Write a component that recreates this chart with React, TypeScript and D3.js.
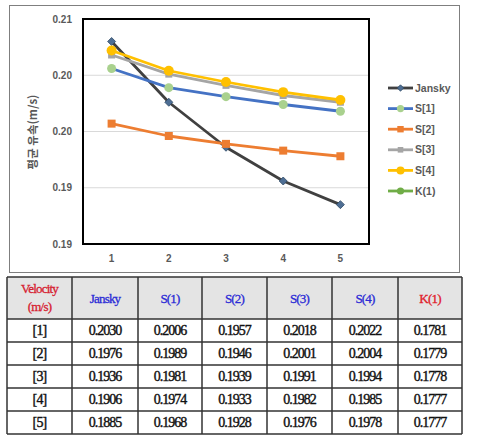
import React from "react";
import * as d3 from "d3";

const categories = ["1", "2", "3", "4", "5"];
const rowLabels = ["[1]", "[2]", "[3]", "[4]", "[5]"];
const seriesNames = ["Jansky", "S[1]", "S[2]", "S[3]", "S[4]", "K(1)"];
const tableHeaders = ["Jansky", "S(1)", "S(2)", "S(3)", "S(4)", "K(1)"];
const jansky = [0.203, 0.1976, 0.1936, 0.1906, 0.1885];
const s1 = [0.2006, 0.1989, 0.1981, 0.1974, 0.1968];
const s2 = [0.1957, 0.1946, 0.1939, 0.1933, 0.1928];
const s3 = [0.2018, 0.2001, 0.1991, 0.1982, 0.1976];
const s4 = [0.2022, 0.2004, 0.1994, 0.1985, 0.1978];
const k1 = [0.1781, 0.1779, 0.1778, 0.1777, 0.1777];
const yTicks = [0.185, 0.19, 0.195, 0.2, 0.205];
const yTickLabels = ["0.19", "0.19", "0.20", "0.20", "0.21"];

const seriesValues = [jansky, s1, s2, s3, s4, k1];
const lineColors = ["#404040", "#4472C4", "#ED7D31", "#A5A5A5", "#FFC000", "#70AD47"];
const markerColors = ["#4E6E94", "#A9D18E", "#ED7D31", "#A5A5A5", "#FFC000", "#70AD47"];
const markerShapes = ["diamond", "circle", "square", "square", "circle", "circle"];
const markerSizes = [4, 4.5, 4, 3.5, 5, 4.5];
const headerColors = ["#2b2bd6", "#2b2bd6", "#2b2bd6", "#2b2bd6", "#2b2bd6", "#e0202a"];

function Marker({ shape, x, y, s, color }: any) {
  if (shape === "circle") return <circle cx={x} cy={y} r={s} fill={color} />;
  if (shape === "square")
    return <rect x={x - s} y={y - s} width={s * 2} height={s * 2} fill={color} />;
  return (
    <path
      d={`M${x},${y - s} L${x + s},${y} L${x},${y + s} L${x - s},${y} Z`}
      fill={color}
      stroke="#2f4a66"
      strokeWidth={0.8}
    />
  );
}

export default function App() {
  const left = 83, right = 369, top = 19, bottom = 244;
  const x = d3.scalePoint<string>().domain(categories).range([left, right]).padding(0.5);
  const y = d3.scaleLinear().domain([0.185, 0.205]).range([bottom, top]);
  const line = d3
    .line<number>()
    .x((_, i) => x(categories[i]) as number)
    .y((d) => y(d));

  const colX = [7, 72, 138, 202, 267, 332, 398, 462];
  const rowY = [277, 319, 342, 365, 388, 411, 434];
  const font = "'Liberation Sans', 'Noto Sans', sans-serif";
  const serif = "'Liberation Serif', 'DejaVu Serif', serif";

  const legendY = d3.scaleLinear().domain([0, 5]).range([88, 191]);

  return (
    <div style={{ position: "absolute", left: 0, top: 0 }}>
      <svg width={478} height={444} style={{ display: "block", background: "#fff" }}>
        <defs>
          <clipPath id="plotClip">
            <rect x={left} y={top} width={right - left} height={bottom - top} />
          </clipPath>
        </defs>
        <rect x={9.5} y={5.5} width={450} height={267} fill="#fff" stroke="#7f7f7f" strokeWidth={1} />
        {yTicks.map((t, i) =>
          i === 0 || i === yTicks.length - 1 ? null : (
            <line key={i} x1={left} x2={right} y1={y(t)} y2={y(t)} stroke="#d9d9d9" strokeWidth={1} />
          )
        )}
        {yTicks.map((t, i) => (
          <text
            key={i}
            x={72}
            y={y(t)}
            dy="0.35em"
            textAnchor="end"
            fontFamily={font}
            fontSize={10}
            fontWeight="bold"
            fill="#595959"
          >
            {yTickLabels[i]}
          </text>
        ))}
        {categories.map((c) => (
          <text
            key={c}
            x={x(c) as number}
            y={262}
            textAnchor="middle"
            fontFamily={font}
            fontSize={10}
            fontWeight="bold"
            fill="#595959"
          >
            {c}
          </text>
        ))}
        <text
          transform={`translate(37,132) rotate(-90)`}
          textAnchor="middle"
          fontFamily="'Noto Sans CJK KR', 'Noto Sans', sans-serif"
          fontSize={11.5}
          fontWeight="bold"
          fill="#595959"
        >
          평균 유속(m/s)
        </text>
        <g clipPath="url(#plotClip)">
          {seriesValues.map((vals, si) => (
            <g key={si}>
              <path d={line(vals) as string} fill="none" stroke={lineColors[si]} strokeWidth={2.8} strokeLinejoin="round" />
              {vals.map((v, i) => (
                <Marker
                  key={i}
                  shape={markerShapes[si]}
                  x={x(categories[i])}
                  y={y(v)}
                  s={markerSizes[si]}
                  color={markerColors[si]}
                />
              ))}
            </g>
          ))}
        </g>
        <rect x={left} y={top} width={right - left} height={bottom - top} fill="none" stroke="#000" strokeWidth={2} />
        {seriesNames.map((n, i) => {
          const ly = legendY(i);
          return (
            <g key={n}>
              <line x1={388} x2={413} y1={ly} y2={ly} stroke={lineColors[i]} strokeWidth={2.8} />
              <Marker shape={markerShapes[i]} x={400.5} y={ly} s={markerSizes[i] * 0.8} color={markerColors[i]} />
              <text x={415} y={ly} dy="0.35em" fontFamily={font} fontSize={10.5} fontWeight="bold" fill="#595959">
                {n}
              </text>
            </g>
          );
        })}
        <rect x={colX[0]} y={rowY[0]} width={colX[7] - colX[0]} height={rowY[1] - rowY[0]} fill="#e4e4e4" />
        {rowY.map((ry, i) => (
          <line key={"r" + i} x1={colX[0]} x2={colX[7]} y1={ry} y2={ry} stroke="#333" strokeWidth={1.5} />
        ))}
        {colX.map((cx, i) => (
          <line key={"c" + i} x1={cx} x2={cx} y1={rowY[0]} y2={rowY[6]} stroke="#333" strokeWidth={1.5} />
        ))}
        <text textAnchor="middle" fontFamily={serif} fontSize={13} fill="#d62030" stroke="#d62030" strokeWidth={0.3} letterSpacing={-0.8}>
          <tspan x={(colX[0] + colX[1]) / 2} y={293}>Velocity</tspan>
          <tspan x={(colX[0] + colX[1]) / 2} y={311}>(m/s)</tspan>
        </text>
        {tableHeaders.map((h, i) => (
          <text
            key={h}
            x={(colX[i + 1] + colX[i + 2]) / 2}
            y={(rowY[0] + rowY[1]) / 2}
            dy="0.35em"
            textAnchor="middle"
            fontFamily={serif}
            fontSize={13}
            fill={headerColors[i]}
            stroke={headerColors[i]}
            strokeWidth={0.3}
            letterSpacing={-0.8}
          >
            {h}
          </text>
        ))}
        {rowLabels.map((r, ri) => (
          <g key={r}>
            <text
              x={(colX[0] + colX[1]) / 2}
              y={(rowY[ri + 1] + rowY[ri + 2]) / 2}
              dy="0.35em"
              textAnchor="middle"
              fontFamily={serif}
              fontSize={14}
              fill="#111"
              stroke="#111"
              strokeWidth={0.4}
              letterSpacing={-0.8}
            >
              {r}
            </text>
            {seriesValues.map((vals, si) => (
              <text
                key={si}
                x={(colX[si + 1] + colX[si + 2]) / 2}
                y={(rowY[ri + 1] + rowY[ri + 2]) / 2}
                dy="0.35em"
                textAnchor="middle"
                fontFamily={serif}
                fontSize={14}
                fill="#111"
                stroke="#111"
                strokeWidth={0.4}
                letterSpacing={-1}
              >
                {vals[ri].toFixed(4)}
              </text>
            ))}
          </g>
        ))}
      </svg>
    </div>
  );
}
